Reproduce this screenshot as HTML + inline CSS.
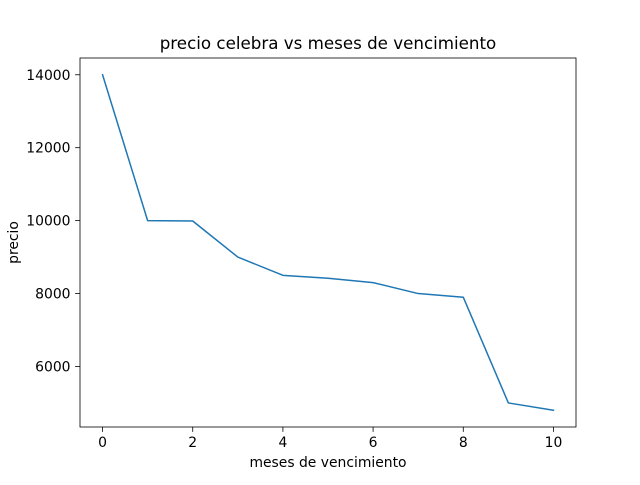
<!DOCTYPE html>
<html><head><meta charset="utf-8"><style>
body{margin:0;background:#fff;}
svg text{font-family:"DejaVu Sans","Liberation Sans",sans-serif;fill:#000;}
</style></head><body>
<svg id="chart" width="640" height="480" xmlns="http://www.w3.org/2000/svg">
<rect width="640" height="480" fill="#fff"/>
<text x="328" y="49" font-size="16.7" text-anchor="middle">precio celebra vs meses de vencimiento</text>
<text x="328" y="467" font-size="13.9" text-anchor="middle">meses de vencimiento</text>
<text x="0" y="0" font-size="13.9" text-anchor="middle" transform="translate(18,242.5) rotate(-90)">precio</text>
<g id="ticks"></g>
<path id="line" fill="none" stroke="#1f77b4" stroke-width="1.5" stroke-linejoin="round" stroke-linecap="square"/>
<rect x="80" y="58" width="496" height="369" fill="none" stroke="#000" stroke-width="0.8"/>
</svg>
<script>
const months = [0,1,2,3,4,5,6,7,8,9,10];
const prices = [14000,10000,9990,9000,8500,8420,8300,8000,7900,5000,4800];
const xTicks = [0,2,4,6,8,10];
const yTicks = [6000,8000,10000,12000,14000];

const L=80,R=576,T=58,B=427;
const xmin=Math.min(...months),xmax=Math.max(...months),xm=(xmax-xmin)*0.05;
const ymin=Math.min(...prices),ymax=Math.max(...prices),ym=(ymax-ymin)*0.05;
const xs=v=>L+(v-(xmin-xm))/((xmax+xm)-(xmin-xm))*(R-L);
const ys=v=>B-(v-(ymin-ym))/((ymax+ym)-(ymin-ym))*(B-T);
const NS="http://www.w3.org/2000/svg";
const g=document.getElementById('ticks');
function mk(tag,attrs,txt){const e=document.createElementNS(NS,tag);for(const k in attrs)e.setAttribute(k,attrs[k]);if(txt!==undefined)e.textContent=txt;g.appendChild(e);return e;}
xTicks.forEach(t=>{
  const x=xs(t);
  const l=mk('line',{x1:x,x2:x,y1:B,y2:B+4.9,stroke:'#000','stroke-width':0.8});
  
  
  const s=mk('text',{x:x,y:B+20,'font-size':13.9,'text-anchor':'middle'},String(t));
  
  
});
yTicks.forEach(t=>{
  const y=ys(t);
  const l=mk('line',{x1:L-4.9,x2:L,y1:y,y2:y,stroke:'#000','stroke-width':0.8});
  
  
  const s=mk('text',{x:L-9.5,y:y+5,'font-size':13.9,'text-anchor':'end'},String(t));
  
  
});
document.getElementById('line').setAttribute('d',months.map((m,i)=>(i?'L':'M')+xs(m).toFixed(2)+','+ys(prices[i]).toFixed(2)).join(' '));
</script>
</body></html>
